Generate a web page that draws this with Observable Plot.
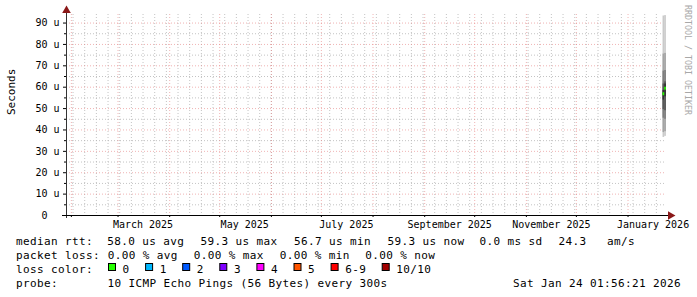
<!DOCTYPE html>
<html><head><meta charset="utf-8">
<script src="https://cdn.jsdelivr.net/npm/d3@7"></script>
<script src="https://cdn.jsdelivr.net/npm/@observablehq/plot@0.6"></script>
<style>
body{margin:0;background:#fff;}
#chart{width:697px;height:297px;position:relative;overflow:hidden;background:#fff;}
svg{display:block;}
</style></head><body><div id="chart"></div>
<script>
// ---- data ----
const endTime = new Date("2026-01-24T01:56:21Z");
const spanDays = 360;
const yTicks = [0, 10, 20, 30, 40, 50, 60, 70, 80, 90];
const yMinor = [5, 15, 25, 35, 45, 55, 65, 75, 85];
const yUnit = "u";
const yLabel = "Seconds";
const watermark = "RRDTOOL / TOBI OETIKER";
const labelMonths = ["2025-03-01", "2025-05-01", "2025-07-01", "2025-09-01", "2025-11-01", "2026-01-01"];
const binStarts = ["2026-01-22T00:00:00Z", "2026-01-23T00:00:00Z"];
const binEnds = ["2026-01-23T00:00:00Z", "2026-01-24T00:00:00Z"];
const pingsBin1 = [36.5, 38.8, 45.5, 49.5, 54.0, 58.5, 61.5, 67.5, 75.5, 93.3];
const pingsBin2 = [37.0, 39.2, 45.0, 49.0, 55.5, 61.5, 62.5, 67.8, 75.8, 93.5];
const medians = [56.7, 59.3];
const smokeShades = ["#cacaca", "#a4a4a4", "#7e7e7e", "#585858", "#323232"];
const medianColor = "#26ff00";

const rttLabel = "median rtt:";
const rttItems = ["58.0 us avg", "59.3 us max", "56.7 us min", "59.3 us now", "0.0 ms sd", "24.3", "am/s"];
const lossLabel = "packet loss:";
const lossItems = ["0.00 % avg", "0.00 % max", "0.00 % min", "0.00 % now"];
const colorLabel = "loss color:";
const lossNames = ["0", "1", "2", "3", "4", "5", "6-9", "10/10"];
const lossColors = ["#26ff00", "#00b8ff", "#0059ff", "#7e00ff", "#ff00ff", "#ff5500", "#ff0000", "#a10000"];
const probeLabel = "probe:";
const probeText = "10 ICMP Echo Pings (56 Bytes) every 300s";
const stampText = "Sat Jan 24 01:56:21 2026";

// ---- derived ----
const startTime = d3.utcDay.offset(endTime, -spanDays);
const weekTicks = d3.utcSunday.range(startTime, endTime);
const monthTicks = d3.utcMonth.range(startTime, endTime);
const labelTicks = labelMonths.map(m => d3.utcDay.offset(new Date(m + "T00:00:00Z"), 15));
const binPings = [pingsBin1, pingsBin2];
const smoke = [];
binPings.forEach((p, b) => {
  const n = p.length;
  for (let i = 0; i < n / 2; i++) {
    smoke.push({x1: new Date(binStarts[b]), x2: new Date(binEnds[b]), y1: p[i], y2: p[n - 1 - i], shade: smokeShades[i]});
  }
});
const medianRows = medians.map((m, b) => ({x1: new Date(binStarts[b]), x2: new Date(binEnds[b]), y: m}));

const grayGrid = {stroke: "#b4b4b4", strokeOpacity: 0.8, strokeDasharray: "1,2"};
const redGrid = {stroke: "#e68080", strokeOpacity: 0.6, strokeDasharray: "1,2"};

const chart = Plot.plot({
  width: 697, height: 230,
  marginLeft: 66, marginRight: 31, marginTop: 14, marginBottom: 15,
  style: {fontFamily: "DejaVu Sans Mono", fontSize: "10px", color: "#000", background: "#fff", overflow: "visible"},
  x: {type: "utc", domain: [startTime, endTime]},
  y: {domain: [0, 94]},
  marks: [
    Plot.gridX(weekTicks, grayGrid),
    Plot.gridY(yMinor, grayGrid),
    Plot.gridX(monthTicks, redGrid),
    Plot.gridY(yTicks.filter(d => d > 0), redGrid),
    Plot.rect(smoke, {x1: "x1", x2: "x2", y1: "y1", y2: "y2", fill: "shade"}),
    Plot.rect(medianRows, {x1: "x1", x2: "x2", y1: "y", y2: "y", insetTop: -1.5, insetBottom: -1.5, fill: medianColor}),
    Plot.frame({anchor: "left", stroke: "#333", insetTop: -2, insetBottom: -2}),
    Plot.frame({anchor: "bottom", stroke: "#000", insetLeft: -4, insetRight: -3}),
    Plot.axisY(yTicks, {tickSize: 3, tickPadding: 4, label: null,
      tickFormat: d => d === 0 ? "0\u00a0\u00a0" : `${d} ${yUnit}`}),
    Plot.axisY(yMinor, {tickSize: 2, tickPadding: 0, label: null, tickFormat: () => ""}),
    Plot.axisX(labelTicks, {tickSize: 0, tickPadding: 5, label: null, tickFormat: d3.utcFormat("%B %Y")}),
    Plot.axisX(monthTicks, {tickSize: 2, tickPadding: 0, label: null, tickFormat: () => ""}),
    Plot.dot([0], {x: null, y: null, frameAnchor: "top-left", dy: -4, symbol: "triangle", r: 3.2, fill: "#8a1818", stroke: null}),
    Plot.dot([0], {x: null, y: null, frameAnchor: "bottom-right", dx: 4, rotate: 90, symbol: "triangle", r: 3.2, fill: "#8a1818", stroke: null}),
    Plot.text([yLabel], {x: null, y: null, text: d => d, frameAnchor: "left", dx: -55, rotate: -90, fontSize: 11})
  ]
});
// watermark (rrdtool signature), placed at the right border
d3.select(chart).append("text")
  .attr("transform", "translate(688,5) rotate(90)")
  .attr("text-anchor", "start")
  .attr("dy", "0.32em").attr("font-size", 8.3).attr("fill", "#a8a8a8")
  .attr("font-family", "DejaVu Sans Mono").text(watermark);
document.getElementById("chart").appendChild(chart);

// ---- legend (below the plot svg) ----
const leg = d3.create("svg").attr("width", 697).attr("height", 67)
  .attr("font-family", "DejaVu Sans Mono").attr("font-size", 11)
  .attr("letter-spacing", "0.38px").attr("fill", "#000");
const rowY = [15, 29, 43.3, 57.3];
const leftX = 16;
const charW = 7;
function put(txt, x, y, anchor) {
  leg.append("text").attr("x", x).attr("y", y).attr("text-anchor", anchor || "start").text(txt);
}
put(rttLabel, leftX, rowY[0]);
[107.3, 200.5, 294, 387.5, 479.5, 558.5, 607].forEach((x, i) => put(rttItems[i], x, rowY[0]));
put(lossLabel, leftX, rowY[1]);
[107.8, 193.8, 279.7, 365.3].forEach((x, i) => put(lossItems[i], x, rowY[1]));
put(colorLabel, leftX, rowY[2]);
let bx = 108;
lossNames.forEach((name, i) => {
  leg.append("rect").attr("x", bx + 0.5).attr("y", 33.5).attr("width", 7).attr("height", 7)
    .attr("fill", lossColors[i]).attr("stroke", "#000").attr("stroke-width", 1);
  put(name, bx + 14.6, rowY[2]);
  bx += 14.6 + name.length * charW + 15.5;
});
put(probeLabel, leftX, rowY[3]);
put(probeText, 107.5, rowY[3]);
put(stampText, 681, rowY[3], "end");
document.getElementById("chart").appendChild(leg.node());
</script></body></html>
